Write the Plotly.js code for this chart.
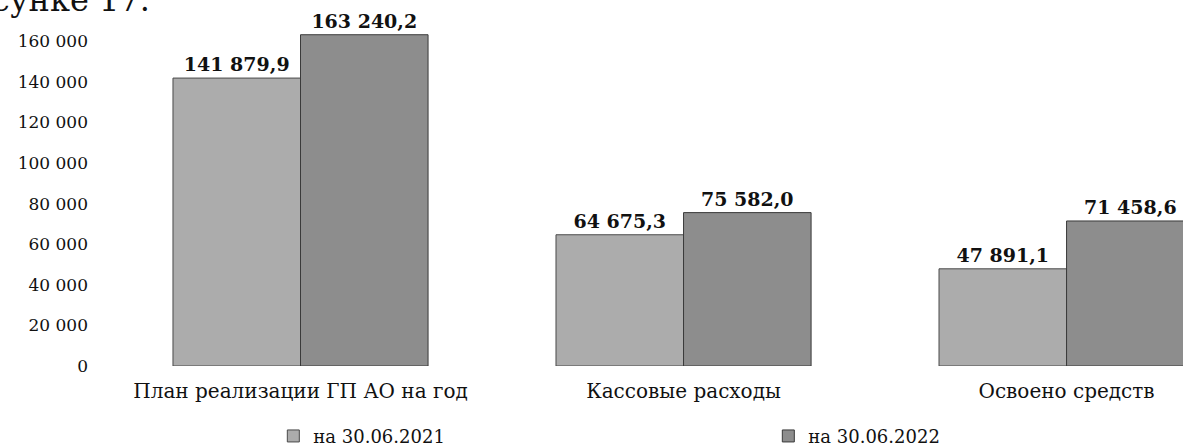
<!DOCTYPE html>
<html>
<head>
<meta charset="utf-8">
<script src="https://cdn.plot.ly/plotly-3.0.1.min.js"></script>
<style>
html,body{margin:0;padding:0;background:#fff;}
#chart{width:1183px;height:448px;}
</style>
</head>
<body>
<div id="chart"></div>
<script>
const categories = ["План реализации ГП АО на год", "Кассовые расходы", "Освоено средств"];
const series2021 = [141879.9, 64675.3, 47891.1];
const series2022 = [163240.2, 75582.0, 71458.6];
const labels2021 = ["141 879,9", "64 675,3", "47 891,1"];
const labels2022 = ["163 240,2", "75 582,0", "71 458,6"];
const seriesNames = ["на 30.06.2021", "на 30.06.2022"];
const tickVals = [0, 20000, 40000, 60000, 80000, 100000, 120000, 140000, 160000];
const tickText = ["0", "20 000", "40 000", "60 000", "80 000", "100 000", "120 000", "140 000", "160 000"];
const fragmentText = "рисунке 17.";

const serif = "DejaVu Serif, Liberation Serif, serif";

const traces = [
  {
    type: "bar", name: seriesNames[0], x: categories, y: series2021,
    text: labels2021, textposition: "outside", cliponaxis: false,
    textfont: {family: serif, size: 19, color: "#111", weight: "bold"},
    marker: {color: "#acacac", line: {color: "#4a4a4a", width: 1}}
  },
  {
    type: "bar", name: seriesNames[1], x: categories, y: series2022,
    text: labels2022, textposition: "outside", cliponaxis: false,
    textfont: {family: serif, size: 19, color: "#111", weight: "bold"},
    marker: {color: "#8d8d8d", line: {color: "#3a3a3a", width: 1}}
  }
];

const layout = {
  width: 1183, height: 448,
  margin: {l: 109, r: 0, t: 21, b: 82, autoexpand: false},
  paper_bgcolor: "#fff", plot_bgcolor: "#fff",
  barmode: "group", bargap: 0.334, bargroupgap: 0,
  font: {family: serif, color: "#111"},
  showlegend: true,
  legend: {
    orientation: "h", x: 0.153, y: -0.15, xanchor: "left", yanchor: "top",
    entrywidth: 450, entrywidthmode: "pixels",
    font: {family: serif, size: 18, color: "#111"}
  },
  xaxis: {
    type: "category", range: [-0.5, 2.304],
    showline: false, showgrid: false, zeroline: false, ticks: "",
    tickfont: {family: serif, size: 20, color: "#111"},
    ticklabelstandoff: 11
  },
  yaxis: {
    range: [0, 170000], tickvals: tickVals, ticktext: tickText,
    showline: false, showgrid: false, zeroline: false, ticks: "",
    tickfont: {family: serif, size: 17, color: "#111"},
    ticklabelstandoff: 20
  },
  annotations: [
    {text: fragmentText, xref: "paper", yref: "paper", x: 0.04, y: 1.0,
     xanchor: "right", yanchor: "bottom", showarrow: false,
     font: {family: serif, size: 32, color: "#111"}}
  ]
};

Plotly.newPlot("chart", traces, layout, {displayModeBar: false, staticPlot: true});
</script>
</body>
</html>
